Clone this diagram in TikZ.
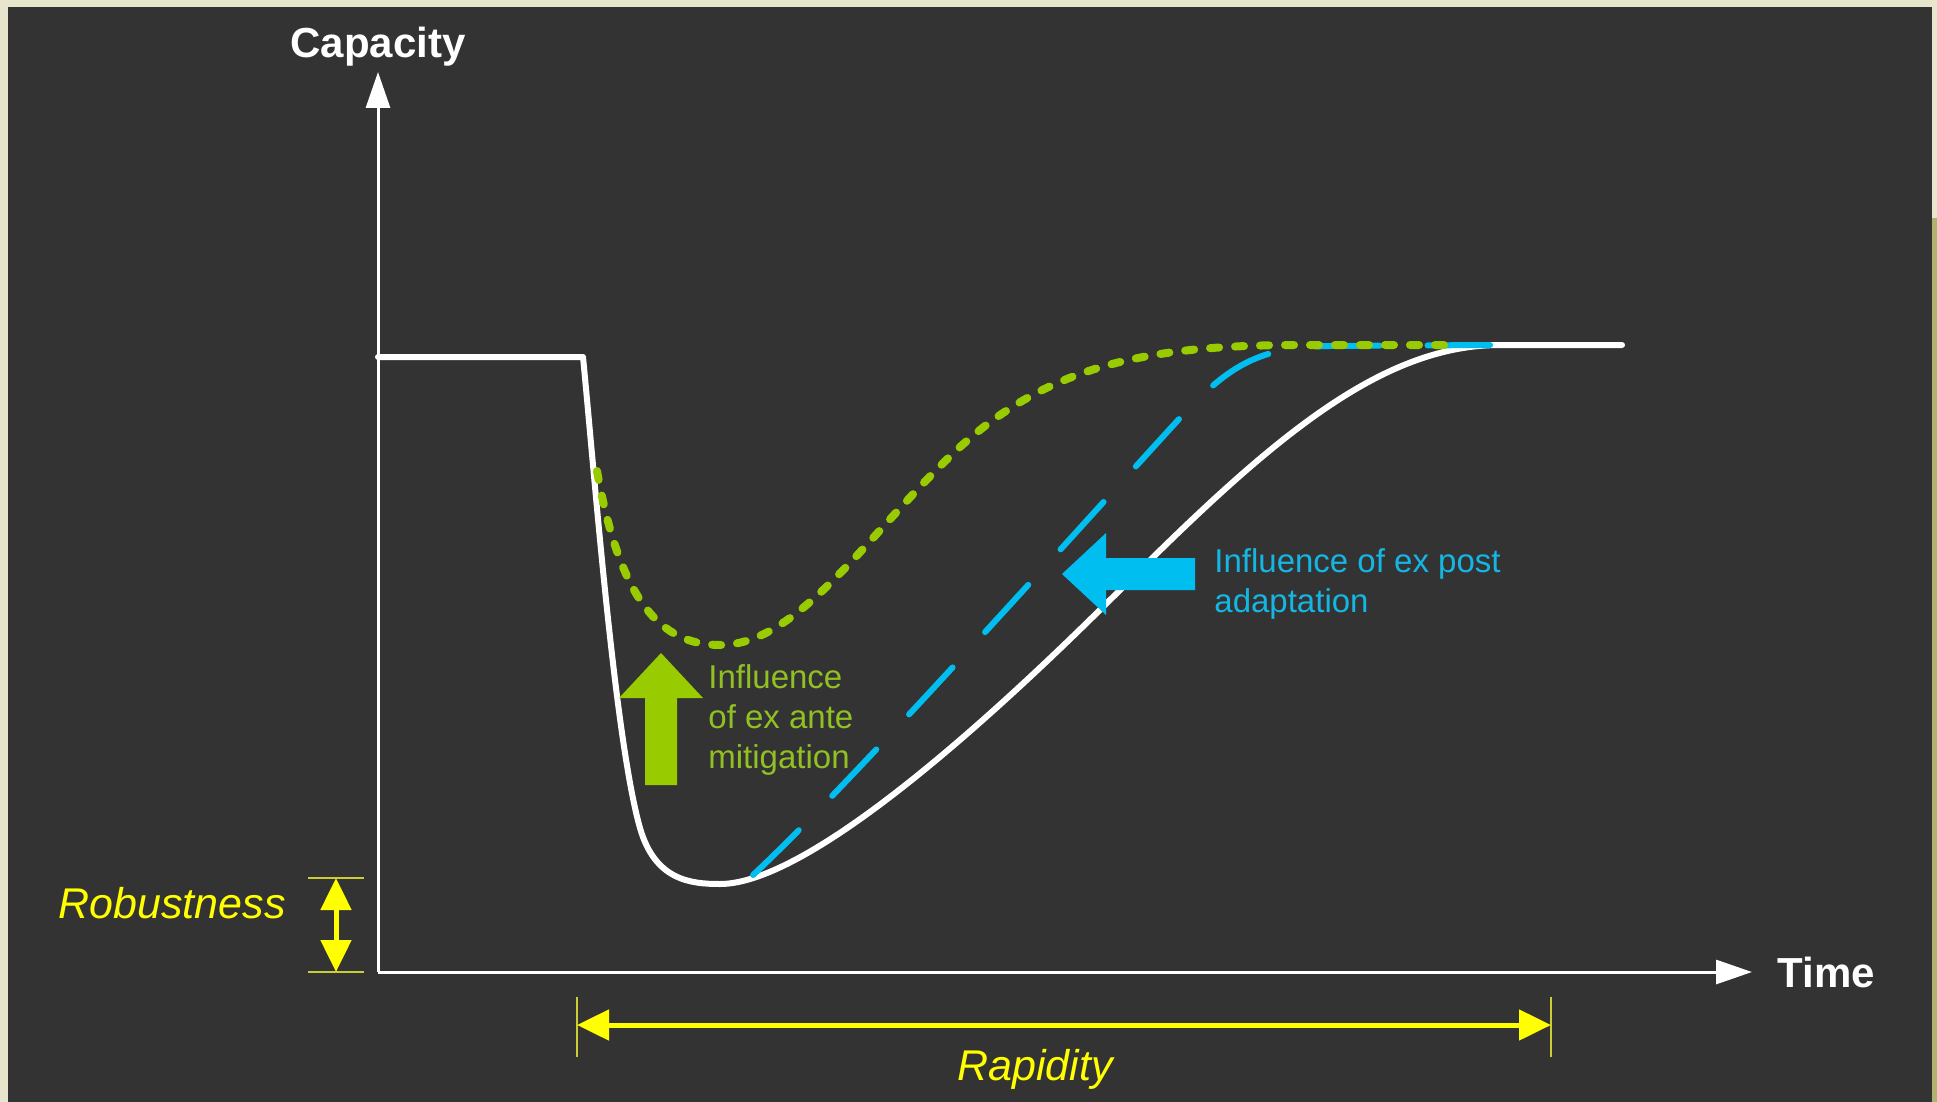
\documentclass[tikz,border=0pt]{standalone}
\usepackage{fontspec}
\setmainfont{Liberation Sans}
\usetikzlibrary{arrows.meta,positioning}
\definecolor{board}{RGB}{51,51,51}
\definecolor{frame}{RGB}{232,229,205}
\definecolor{framegreen}{RGB}{178,178,112}
\definecolor{mitig}{RGB}{153,204,0}
\definecolor{mitigtext}{RGB}{145,192,35}
\definecolor{adapt}{RGB}{0,190,240}
\definecolor{adapttext}{RGB}{20,182,228}
\definecolor{dimyellow}{RGB}{255,255,0}
\begin{document}
\begin{tikzpicture}[x=0.5pt,y=-0.5pt,
  axis/.style={line width=1.5pt,white,-{Triangle[width=12pt,length=18pt]}},
  base curve/.style={line width=3pt,white,line cap=round,line join=round},
  ante curve/.style={line width=4pt,mitig,line cap=round,dash pattern=on 4.5pt off 8pt},
  post curve/.style={line width=3pt,adapt,line cap=round,dash pattern=on 32pt off 24pt},
  dim/.style={line width=2.5pt,dimyellow,{Triangle[width=15pt,length=16pt]}-{Triangle[width=15pt,length=16pt]}},
  dimtick/.style={line width=0.8pt,dimyellow!60!gray},
  axislabel/.style={white,font=\fontsize{21}{25}\selectfont\bfseries,inner sep=0},
  dimlabel/.style={dimyellow,font=\fontsize{21.5}{25}\selectfont\itshape,inner sep=0},
  note/.style={font=\fontsize{16.5}{20}\selectfont,align=left,inner sep=0}]
\useasboundingbox (0,0) rectangle (1937,1102);
\fill[frame] (0,0) rectangle (1937,1102);
\fill[framegreen] (1932,218) rectangle (1937,1102);
\fill[board] (8,7) rectangle (1932,1102);

\coordinate (O) at (378,972);
\coordinate (Ytip) at (378,72);
\coordinate (Xtip) at (1752,972);
\draw[axis] (O) -- (Ytip);
\draw[axis] (O) -- (Xtip);
\node[axislabel,above=2.5pt] (cap) at (Ytip) {Capacity};
\node[axislabel,right=12.5pt] (time) at (Xtip) {Time};

\coordinate (C0) at (378,357);
\coordinate (C1) at (583,357);
\coordinate (Cmin) at (720,884);
\coordinate (Cend) at (1622,345);
\draw[base curve] (C0) -- (C1) .. controls (595,480) and (615,740) .. (640,828)
  .. controls (655,880) and (690,884) .. (Cmin)
  .. controls (800,884) and (960,750) .. (1120,590)
  .. controls (1270,440) and (1380,345) .. (1500,345) -- (Cend);
\draw[post curve] (753,875) .. controls (850,785) and (1100,505) .. (1180,418)
  .. controls (1230,364) and (1260,347) .. (1330,346) -- (1490,345);
\draw[ante curve] (597,471) .. controls (620,600) and (660,645) .. (720,645)
  .. controls (800,645) and (870,530) .. (960,447)
  .. controls (1050,365) and (1150,345) .. (1300,345) -- (1448,345);

\coordinate (Gtip) at (661,653);
\fill[mitig] (Gtip) -- ++(42,45) -- ++(-26,0) -- ++(0,87) -- ++(-32,0) -- ++(0,-87) -- ++(-26,0) -- cycle;
\coordinate (Btip) at (1062,574);
\fill[adapt] (Btip) -- ++(44,-41) -- ++(0,25) -- ++(89,0) -- ++(0,32) -- ++(-89,0) -- ++(0,25) -- cycle;
\node[note,mitigtext,anchor=base west] (ante) at (708,768) {Influence\\of ex ante\\mitigation};
\node[note,adapttext,anchor=base west] (post) at (1214,612) {Influence of ex post\\adaptation};

\coordinate (RobTop) at (336,878);
\coordinate (RobBot) at (336,972);
\draw[dimtick] (308,878) -- (364,878);
\draw[dimtick] (308,972) -- (364,972);
\draw[dim] (RobTop) -- (RobBot);
\node[dimlabel,anchor=base east] (rob) at (286,918) {Robustness};

\coordinate (RapL) at (577,1025);
\coordinate (RapR) at (1551,1025);
\draw[dimtick] (577,997) -- (577,1057);
\draw[dimtick] (1551,997) -- (1551,1057);
\draw[dim] (RapL) -- (RapR);
\node[dimlabel,anchor=base] (rap) at (1035,1080) {Rapidity};
\end{tikzpicture}
\end{document}
